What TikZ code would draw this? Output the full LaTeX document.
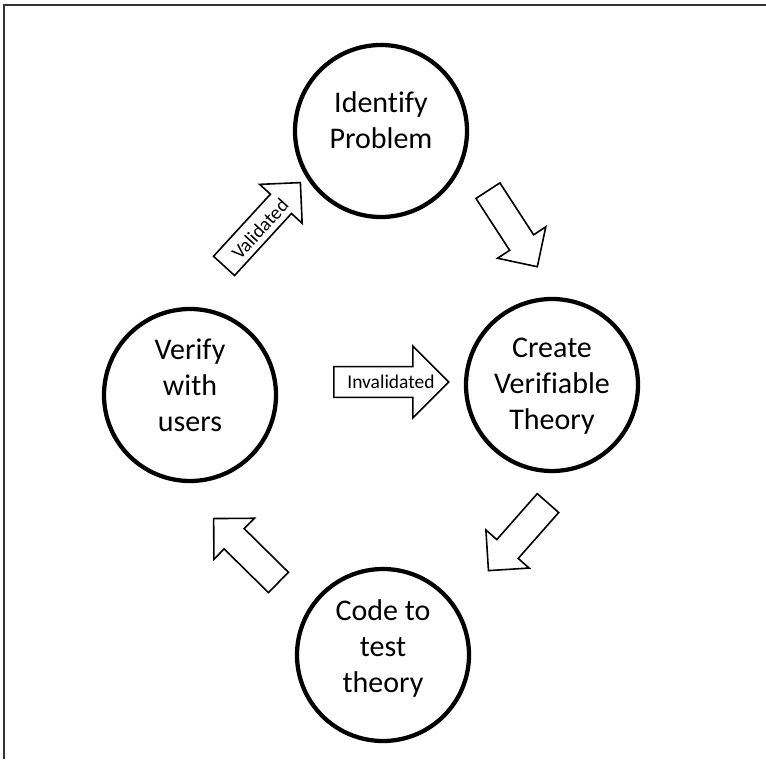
\documentclass[tikz,border=0pt]{standalone}
\usepackage{fontspec}
\setmainfont{Carlito}[Ligatures=NoCommon]
\usepackage{tikz}
\usetikzlibrary{shapes.geometric, shapes.arrows}
\tikzstyle{stage} = [circle, minimum size=129pt, line width=3.2pt, draw=black, fill=white]
\tikzstyle{stagetext} = [align=center, inner sep=0pt, font=\fontsize{22.5}{27}\selectfont]
\tikzstyle{bigarrow} = [single arrow, draw=black, line width=1.2pt, fill=white, inner xsep=0pt, inner ysep=10.1pt, text height=0pt, text depth=0pt, single arrow head extend=10.9pt, single arrow tip angle=90, anchor=tail]
\tikzstyle{arrowtext} = [inner sep=0pt, font=\fontsize{14.6}{17}\selectfont]

\begin{document}
\begin{tikzpicture}[x=0.75pt, y=-0.75pt]
\useasboundingbox (0,0) rectangle (766,759);
\draw [line width=1.5pt, black!80] (4,759) -- (4,5) -- (766,5);

% the four stages
\node (identify) [stage] at (381,131) {};
\node (verify) [stage] at (190,395) {};
\node (create) [stage] at (552,385) {};
\node (code) [stage] at (383,655) {};
\node (identifytext) [stagetext] at ([yshift=8pt]identify) {Identify\\Problem};
\node (verifytext) [stagetext] at ([yshift=7.1pt]verify) {Verify\\with\\users};
\node (createtext) [stagetext] at ([yshift=-1.1pt]create) {Create\\Verifiable\\Theory};
\node (codetext) [stagetext] at ([yshift=4.9pt]code) {Code to\\test\\theory};

% block arrows
\node (validatedarrow) [bigarrow, minimum height=84.75pt, rotate=47.5] at (223.5,266.5) {};
\node (invalidatedarrow) [bigarrow, minimum height=86.25pt, inner ysep=10.9pt, single arrow head extend=15.4pt] at (333,382) {};
\node (theoryarrow) [bigarrow, minimum height=68pt, rotate=-57] at (487.5,190) {};
\node (codearrow) [bigarrow, minimum height=67.5pt, rotate=-131.4] at (548.5,502.5) {};
\node (verifyarrow) [bigarrow, minimum height=68.25pt, rotate=135.4] at (279,583) {};
\node (validated) [arrowtext, rotate=47.5] at (260,229) {Validated};
\node (invalidated) [arrowtext] at (391,382) {Invalidated};
\end{tikzpicture}
\end{document}
